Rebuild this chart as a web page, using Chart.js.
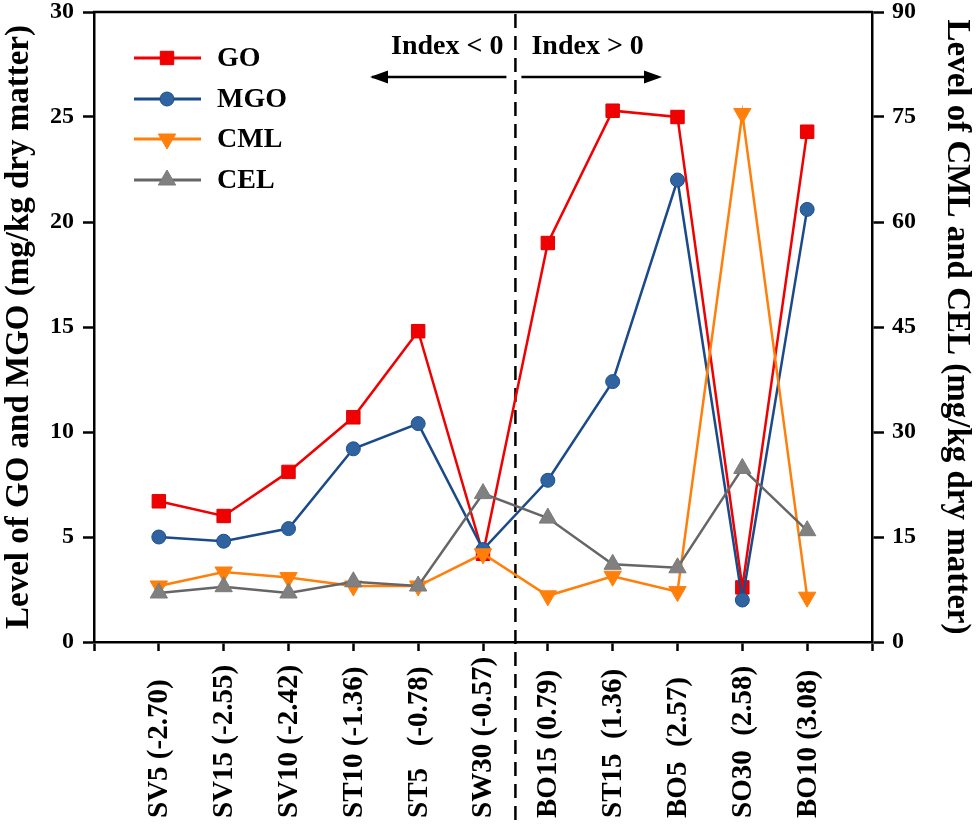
<!DOCTYPE html>
<html>
<head>
<meta charset="utf-8">
<script src="https://cdn.jsdelivr.net/npm/chart.js@4/dist/chart.umd.min.js"></script>
<style>
  html, body { margin: 0; padding: 0; background: #fff; }
  #wrap { width: 976px; height: 825px; }
</style>
</head>
<body>
<div id="wrap"><canvas id="c" width="976" height="825"></canvas></div>
<script>
// ---- data ----
const categories = ['SV5 (-2.70)', 'SV15 (-2.55)', 'SV10 (-2.42)', 'ST10 (-1.36)', 'ST5   (-0.78)', 'SW30 (-0.57)',
                    'BO15 (0.79)', 'ST15  (1.36)', 'BO5  (2.57)', 'SO30  (2.58)', 'BO10 (3.08)'];
const GO  = [6.7, 6.0, 8.1, 10.7, 14.8, 4.2, 19.0, 25.3, 25.0, 2.6, 24.3];
const MGO = [5.0, 4.8, 5.4, 9.2, 10.4, 4.4, 7.7, 12.4, 22.0, 2.0, 20.6];
const CML = [8.0, 10.0, 9.2, 8.0, 8.0, 12.6, 6.6, 9.4, 7.2, 75.5, 6.4];
const CEL = [7.0, 7.9, 7.0, 8.6, 8.0, 21.2, 17.7, 11.1, 10.6, 24.8, 15.9];
const leftTicks  = [0, 5, 10, 15, 20, 25, 30];
const rightTicks = [0, 15, 30, 45, 60, 75, 90];
const leftTitle  = 'Level of GO and MGO (mg/kg dry matter)';
const rightTitle = 'Level of CML and CEL (mg/kg dry matter)';
const legendLabels = ['GO', 'MGO', 'CML', 'CEL'];
const indexLabels = ['Index < 0', 'Index > 0'];

// padded category axis (empty slot at each end, like the reference's outer ticks)
const labels = [''].concat(categories, ['']);
const pad = arr => [null].concat(arr, [null]);

const FONT = '"Liberation Serif", "Times New Roman", serif';

const datasets = [
  { label: legendLabels[0], data: pad(GO), yAxisID: 'y', borderColor: '#f00000', backgroundColor: '#f00000',
    pointStyle: 'rect', pointRadius: 9.5, pointBorderColor: '#e00000', pointBorderWidth: 1, borderWidth: 2.5, order: 3 },
  { label: legendLabels[1], data: pad(MGO), yAxisID: 'y', borderColor: '#1b4a8a', backgroundColor: '#2f64a0',
    pointStyle: 'circle', pointRadius: 7, pointBorderColor: '#1f4f8c', pointBorderWidth: 1, borderWidth: 2.5, order: 2 },
  { label: legendLabels[2], data: pad(CML), yAxisID: 'y1', borderColor: '#ff7f0a', backgroundColor: '#ff7f0a',
    pointStyle: 'triangle', pointRotation: 180, pointRadius: 10, pointBorderColor: '#ff7f0a', pointBorderWidth: 1, borderWidth: 2.5, order: 1 },
  { label: legendLabels[3], data: pad(CEL), yAxisID: 'y1', borderColor: '#666666', backgroundColor: '#808080',
    pointStyle: 'triangle', pointRadius: 10, pointBorderColor: '#7a7a7a', pointBorderWidth: 1, borderWidth: 2.5, order: 0 }
];

function drawMarker(ctx, ds, x, y) {
  ctx.save();
  ctx.fillStyle = ds.backgroundColor;
  ctx.strokeStyle = ds.pointBorderColor;
  ctx.lineWidth = 1;
  if (Chart.helpers && Chart.helpers.drawPoint) {
    Chart.helpers.drawPoint(ctx, { pointStyle: ds.pointStyle, radius: ds.pointRadius, rotation: ds.pointRotation || 0, borderWidth: 1 }, x, y);
  }
  ctx.restore();
}

const decor = {
  id: 'decor',
  beforeDatasetsDraw(chart) {
    const { ctx, chartArea, scales } = chart;
    // top frame line
    ctx.save();
    ctx.strokeStyle = '#000';
    ctx.lineWidth = 2.5;
    ctx.beginPath();
    ctx.moveTo(chartArea.left - 1, chartArea.top);
    ctx.lineTo(chartArea.right + 1, chartArea.top);
    ctx.stroke();
    // dashed divider between SW30 and BO15
    const xd = (scales.x.getPixelForValue(6) + scales.x.getPixelForValue(7)) / 2;
    ctx.setLineDash([14, 8]);
    ctx.lineWidth = 2.5;
    ctx.beginPath();
    ctx.moveTo(xd, chartArea.top + 2);
    ctx.lineTo(xd, chart.height);
    ctx.stroke();
    ctx.restore();
  },
  afterDatasetsDraw(chart) {
    const { ctx, scales } = chart;
    const xd = (scales.x.getPixelForValue(6) + scales.x.getPixelForValue(7)) / 2;
    ctx.save();
    ctx.fillStyle = '#000';
    ctx.strokeStyle = '#000';
    ctx.font = 'bold 28px ' + FONT;
    ctx.textBaseline = 'middle';
    ctx.textAlign = 'right';
    ctx.fillText(indexLabels[0], xd - 12, 47);
    ctx.textAlign = 'left';
    ctx.fillText(indexLabels[1], xd + 16, 47);
    // arrows
    const ay = 77;
    ctx.lineWidth = 2.5;
    ctx.beginPath();
    ctx.moveTo(xd - 9, ay); ctx.lineTo(372, ay);
    ctx.moveTo(xd + 6, ay); ctx.lineTo(658, ay);
    ctx.stroke();
    ctx.beginPath();
    ctx.moveTo(370, ay); ctx.lineTo(388, ay - 6.5); ctx.lineTo(388, ay + 6.5); ctx.closePath();
    ctx.fill();
    ctx.beginPath();
    ctx.moveTo(662, ay); ctx.lineTo(644, ay - 6.5); ctx.lineTo(644, ay + 6.5); ctx.closePath();
    ctx.fill();

    // legend
    const rows = [58, 99, 139, 180];
    chart.data.datasets.forEach((ds, i) => {
      const y = rows[i];
      ctx.strokeStyle = ds.borderColor;
      ctx.lineWidth = 3;
      ctx.beginPath();
      ctx.moveTo(134, y); ctx.lineTo(201, y);
      ctx.stroke();
      drawMarker(ctx, ds, 167, y);
      ctx.fillStyle = '#000';
      ctx.font = 'bold 28px ' + FONT;
      ctx.textAlign = 'left';
      ctx.textBaseline = 'middle';
      ctx.fillText(ds.label, 217, y + 1);
    });
    ctx.restore();
  },
  afterDraw(chart) {
    // category labels, rotated and start-aligned at the bottom like the reference
    const { ctx, scales } = chart;
    ctx.save();
    ctx.fillStyle = '#000';
    ctx.font = 'bold 29px ' + FONT;
    ctx.textAlign = 'left';
    ctx.textBaseline = 'middle';
    categories.forEach((lab, i) => {
      const x = scales.x.getPixelForValue(i + 1);
      ctx.save();
      ctx.translate(x + 1, 818);
      ctx.rotate(-Math.PI / 2);
      ctx.fillText(lab, 0, 0);
      ctx.restore();
    });
    ctx.restore();
  }
};

const tickFont = { family: FONT, size: 24, weight: 'bold' };
const titleFont = { family: FONT, size: 33, weight: 'bold' };

new Chart(document.getElementById('c'), {
  type: 'line',
  data: { labels: labels, datasets: datasets },
  plugins: [decor],
  options: {
    responsive: false,
    animation: false,
    devicePixelRatio: 1,
    layout: { padding: { top: 12, left: 0, right: 0, bottom: 0 } },
    plugins: { legend: { display: false }, tooltip: { enabled: false } },
    scales: {
      x: {
        type: 'category',
        offset: false,
        grid: { drawOnChartArea: false, drawTicks: true, tickLength: 9, tickWidth: 2.5, tickColor: '#000' },
        border: { display: true, color: '#000', width: 2.5 },
        ticks: { display: false, autoSkip: false },
        afterFit(s) { s.height = 183; s.paddingLeft = 0; s.paddingRight = 0; }
      },
      y: {
        position: 'left',
        min: 0, max: 30,
        afterBuildTicks(s) { s.ticks = leftTicks.map(v => ({ value: v })); },
        grid: { drawOnChartArea: false, drawTicks: true, tickLength: 11, tickWidth: 2.5, tickColor: '#000' },
        border: { display: true, color: '#000', width: 2.5 },
        ticks: { color: '#000', font: tickFont, padding: 9 },
        title: { display: true, text: leftTitle, color: '#000', font: titleFont, padding: { top: 0, bottom: 0 } },
        afterFit(s) { s.width = 94; s.paddingTop = 0; s.paddingBottom = 0; }
      },
      y1: {
        position: 'right',
        min: 0, max: 90,
        afterBuildTicks(s) { s.ticks = rightTicks.map(v => ({ value: v })); },
        grid: { drawOnChartArea: false, drawTicks: true, tickLength: 12, tickWidth: 2.5, tickColor: '#000' },
        border: { display: true, color: '#000', width: 2.5 },
        ticks: { color: '#000', font: tickFont, padding: 8 },
        title: { display: true, text: rightTitle, color: '#000', font: titleFont, padding: { top: 0, bottom: 0 } },
        afterFit(s) { s.width = 104; s.paddingTop = 0; s.paddingBottom = 0; }
      }
    }
  }
});
</script>
</body>
</html>
